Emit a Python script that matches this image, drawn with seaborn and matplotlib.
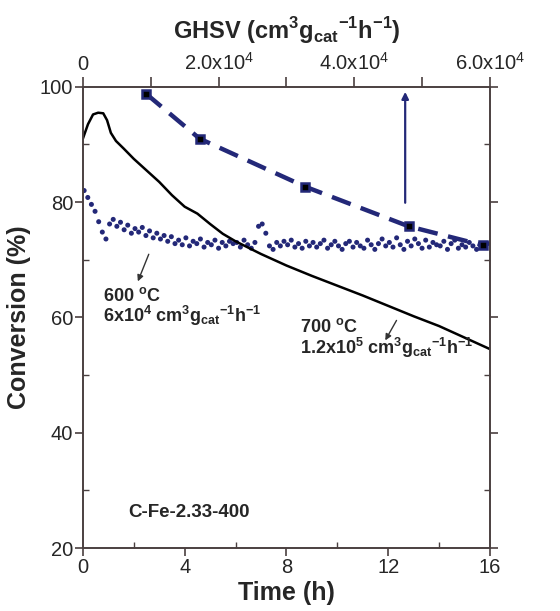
import numpy as np
import pandas as pd
import matplotlib
matplotlib.use('Agg')
import matplotlib.pyplot as plt
import seaborn as sns

# 700 C run, conversion vs time
time_700 = [0, 0.2, 0.4, 0.6, 0.8, 0.95, 1.1, 1.3, 1.6, 2.0, 2.5, 3.0, 3.5, 4.0, 4.5,
            5.0, 5.5, 6.0, 7.0, 8.0, 9.0, 10.0, 11.0, 12.0, 13.0, 14.0, 15.0, 16.0]
conv_700 = [91.0, 93.5, 95.2, 95.5, 95.4, 94.2, 92.0, 90.6, 89.3, 87.5, 85.5, 83.5, 81.2, 79.2, 78.0,
            76.2, 74.5, 73.2, 71.0, 69.0, 67.2, 65.5, 63.8, 62.0, 60.2, 58.5, 56.5, 54.5]

# 600 C run, conversion readings (regular sampling, ~7 per hour)
conv_600 = [82.0, 80.8, 79.6, 78.4, 76.6, 74.8, 73.6,
            76.2, 77.0, 75.8, 76.5, 75.2, 76.0, 74.6,
            75.4, 74.8, 75.6, 74.2, 75.0, 73.8, 74.6,
            73.6, 74.2, 73.2, 74.0, 72.8, 73.4, 72.6,
            73.8, 72.4, 73.2, 72.8, 73.6, 72.2, 73.0,
            72.6, 73.4, 72.0, 73.0, 72.4, 73.2, 72.8,
            73.0, 72.2, 73.4, 72.6, 72.0, 73.0, 75.8,
            76.2, 74.6, 72.4, 71.8, 73.0, 72.4, 73.2,
            72.6, 73.4, 72.2, 72.8, 72.0, 73.2, 72.4,
            73.0, 72.2, 72.8, 73.4, 72.0, 72.6, 73.2,
            72.4, 71.8, 72.8, 73.2, 72.2, 73.0, 72.4,
            72.0, 73.4, 72.6, 71.8, 72.8, 73.6, 72.4,
            73.0, 72.2, 73.8, 72.6, 71.8, 73.2, 72.4,
            73.6, 72.8, 72.0, 73.4, 72.2, 73.0, 72.6,
            72.4, 73.2, 71.8, 72.8, 73.4, 72.0, 72.6,
            72.2, 73.0, 72.4, 71.8, 72.6, 72.2, 72.8]
time_600 = np.linspace(0.05, 15.9, len(conv_600))

# conversion vs GHSV
ghsv = [9300, 17200, 32700, 48000, 59000]
conv_ghsv = [98.8, 91.0, 82.7, 75.8, 72.5]

navy = '#232878'
spine_col = '#4a4040'

sns.set_style('ticks')
plt.rcParams['font.family'] = ['Liberation Sans', 'DejaVu Sans']
plt.rcParams['mathtext.fontset'] = 'custom'
plt.rcParams['mathtext.rm'] = 'Liberation Sans'
plt.rcParams['mathtext.bf'] = 'Liberation Sans:bold'

df_700 = pd.DataFrame({'time': time_700, 'conv': conv_700})
df_600 = pd.DataFrame({'time': time_600, 'conv': conv_600})
df_g = pd.DataFrame({'ghsv': ghsv, 'conv': conv_ghsv})

fig = plt.figure(figsize=(5.6, 6.11), dpi=100)
ax = fig.add_axes([0.148, 0.103, 0.727, 0.755])

sns.lineplot(data=df_700, x='time', y='conv', color='black', lw=1.8, ax=ax)
sns.scatterplot(data=df_600, x='time', y='conv', color=navy, s=13, edgecolor='none', ax=ax)

ax.set_xlim(0, 16)
ax.set_ylim(20, 100)
ax.set_xticks([0, 4, 8, 12, 16])
ax.set_xticks([2, 6, 10, 14], minor=True)
ax.set_yticks([20, 40, 60, 80, 100])
ax.set_yticks([30, 50, 70, 90], minor=True)
ax.tick_params(which='major', direction='out', length=6, width=1.2, labelsize=14.5,
               color=spine_col, pad=1)
ax.tick_params(which='minor', direction='in', length=4, width=1.0, color=spine_col)
ax.tick_params(axis='y', which='both', right=True)
ax.set_xlabel('Time (h)', fontsize=18, fontweight='bold', labelpad=3)
ax.set_ylabel('Conversion (%)', fontsize=18, fontweight='bold', labelpad=6)

ax2 = ax.twiny()
sns.lineplot(data=df_g, x='ghsv', y='conv', color=navy, lw=3.2, ax=ax2)
ax2.lines[0].set_dashes([4.5, 2.4])
ax2.plot(ghsv, conv_ghsv, ls='none', marker='s', ms=6, mfc='black', mec=navy, mew=1.8)
ax2.set_xlim(0, 6e4)
ax2.set_xticks([0, 2e4, 4e4, 6e4])
ax2.set_xticklabels(['0', r'2.0x10$^4$', r'4.0x10$^4$', r'6.0x10$^4$'])
ax2.set_xticks([1e4, 3e4, 5e4], minor=True)
ax2.tick_params(which='both', direction='out', length=7, width=1.2, labelsize=14.5,
                color=spine_col, pad=2)
ax2.set_xlabel(r'GHSV (cm$^\mathbf{3}$g$_\mathbf{cat}$$^\mathbf{-1}$h$^\mathbf{-1}$)',
               fontsize=17, fontweight='bold', labelpad=10)
ax2.set_ylabel('')
ax2.annotate('', xy=(47500, 99.6), xytext=(47500, 79.4),
             arrowprops=dict(arrowstyle='-|>', color=navy, lw=1.6, mutation_scale=10))

for a in (ax, ax2):
    for s in a.spines.values():
        s.set_color(spine_col)
        s.set_linewidth(1.2)

# annotations
ax.annotate('', xy=(2.12, 65.8), xytext=(2.63, 71.4),
            arrowprops=dict(arrowstyle='-|>', color='#333333', lw=1.0, mutation_scale=9))
ax.text(0.79, 63.7, r'600 $^\mathbf{o}$C', fontsize=13, fontweight='bold', va='center')
ax.text(0.79, 60.2, r'6x10$^\mathbf{4}$ cm$^\mathbf{3}$g$_\mathbf{cat}$$^\mathbf{-1}$h$^\mathbf{-1}$',
        fontsize=13, fontweight='bold', va='center')
ax.annotate('', xy=(11.83, 55.6), xytext=(12.38, 59.9),
            arrowprops=dict(arrowstyle='-|>', color='#333333', lw=1.0, mutation_scale=9))
ax.text(8.53, 58.3, r'700 $^\mathbf{o}$C', fontsize=13, fontweight='bold', va='center')
ax.text(8.53, 54.7, r'1.2x10$^\mathbf{5}$ cm$^\mathbf{3}$g$_\mathbf{cat}$$^\mathbf{-1}$h$^\mathbf{-1}$',
        fontsize=13, fontweight='bold', va='center')
ax.text(1.77, 26.2, 'C-Fe-2.33-400', fontsize=13.5, fontweight='bold', va='center')

fig.savefig('out.png', dpi=100)
